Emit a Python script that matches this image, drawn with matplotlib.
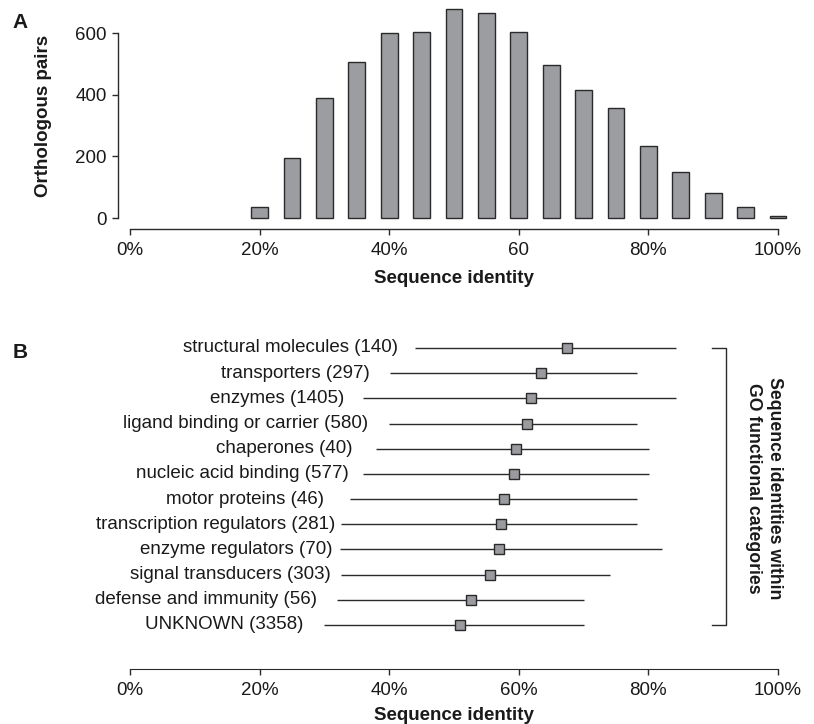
import matplotlib
matplotlib.use("Agg")
import matplotlib.pyplot as plt

plt.rcParams['font.family'] = ['Liberation Sans', 'DejaVu Sans']

# ---- Data: panel A ----
identity_bins = [20, 25, 30, 35, 40, 45, 50, 55, 60, 65, 70, 75, 80, 85, 90, 95, 100]
pair_counts = [36, 195, 389, 506, 599, 602, 678, 666, 602, 496, 415, 356, 233, 150, 82, 36, 6]
x_ticks_a = [0, 20, 40, 60, 80, 100]
x_ticklabels_a = ["0%", "20%", "40%", "60", "80%", "100%"]
y_ticks_a = [0, 200, 400, 600]

# ---- Data: panel B (bottom to top) ----
categories = ["UNKNOWN (3358)", "defense and immunity (56)", "signal transducers (303)",
              "enzyme regulators (70)", "transcription regulators (281)", "motor proteins (46)",
              "nucleic acid binding (577)", "chaperones (40)", "ligand binding or carrier (580)",
              "enzymes (1405)", "transporters (297)", "structural molecules (140)"]
range_low = [30.0, 32.0, 32.5, 32.4, 32.5, 34.0, 35.9, 38.0, 40.0, 36.0, 40.1, 44.0]
range_high = [70.0, 70.0, 74.1, 82.1, 78.2, 78.2, 80.1, 80.1, 78.2, 84.2, 78.2, 84.2]
center_val = [50.9, 52.6, 55.5, 57.0, 57.2, 57.7, 59.2, 59.6, 61.3, 61.9, 63.4, 67.4]
x_ticks_b = [0, 20, 40, 60, 80, 100]
x_ticklabels_b = ["0%", "20%", "40%", "60%", "80%", "100%"]

# layout: right edge of each category label (in x-axis units)
label_right = [26.7, 28.9, 31.0, 31.2, 31.6, 29.9, 33.8, 34.3, 36.7, 33.0, 37.0, 41.4]

W, H = 814, 724
fig = plt.figure(figsize=(W / 100, H / 100), dpi=100)

def px_axes(l, t, r, b):
    return fig.add_axes([l / W, 1 - b / H, (r - l) / W, (b - t) / H])

TXT = '#1a1a1a'
LINE = '#2a2a2a'
BARC = '#9c9da1'
FS = 13.5

# ---------------- Panel A ----------------
axA = px_axes(104.08, 2.2, 803.9, 229.1)
axA.bar(identity_bins, pair_counts, width=2.6, color=BARC, edgecolor=LINE, linewidth=1.0)
axA.set_xlim(-4, 104)
axA.set_ylim(-36, 700)
for s in ['top', 'right']:
    axA.spines[s].set_visible(False)
axA.spines['left'].set_position(('data', -1.85))
axA.spines['left'].set_bounds(0, 600)
axA.spines['bottom'].set_bounds(0, 100)
for s in ['left', 'bottom']:
    axA.spines[s].set_color(LINE)
    axA.spines[s].set_linewidth(1.0)
axA.set_xticks(x_ticks_a)
axA.set_xticklabels(x_ticklabels_a)
axA.set_yticks(y_ticks_a)
axA.tick_params(axis='both', direction='out', length=4, width=1.0, color=LINE,
                labelsize=FS, labelcolor=TXT, pad=5.5)
axA.tick_params(axis='y', pad=4)
axA.set_xlabel("Sequence identity", fontsize=FS, fontweight='bold', color=TXT, labelpad=8)
axA.set_ylabel("Orthologous pairs", fontsize=FS, fontweight='bold', color=TXT, labelpad=17)

# ---------------- Panel B ----------------
axB = px_axes(104.08, 335.4, 803.9, 669.0)
ys = list(range(len(categories)))
axB.hlines(ys, range_low, range_high, color=LINE, linewidth=1.0)
axB.plot(center_val, ys, linestyle='none', marker='s', markersize=7,
         markerfacecolor='#9a9b9f', markeredgecolor=LINE, markeredgewidth=1.0)
for y, lab, xr in zip(ys, categories, label_right):
    axB.text(xr, y, lab, ha='right', va='center', fontsize=FS, color=TXT)
axB.set_xlim(-4, 104)
axB.set_ylim(-1.75, 11.5)
for s in ['top', 'right', 'left']:
    axB.spines[s].set_visible(False)
axB.spines['bottom'].set_bounds(0, 100)
axB.spines['bottom'].set_color(LINE)
axB.set_yticks([])
axB.set_xticks(x_ticks_b)
axB.set_xticklabels(x_ticklabels_b)
axB.tick_params(axis='x', direction='out', length=4, width=1.0, color=LINE,
                labelsize=FS, labelcolor=TXT, pad=5.5)
axB.set_xlabel("Sequence identity", fontsize=FS, fontweight='bold', color=TXT, labelpad=5.5)

# bracket
bx0, bx1 = 89.8, 92.0
axB.plot([bx0, bx1, bx1, bx0], [ys[-1], ys[-1], ys[0], ys[0]], color=LINE,
         linewidth=1.0, clip_on=False)
fig.text(764 / W, 1 - 488 / H, "Sequence identities within\nGO functional categories",
         rotation=-90, ha='center', va='center', fontsize=12.7, fontweight='bold',
         color=TXT, linespacing=1.35, multialignment='center')

# panel letters
fig.text(20 / W, 1 - 22 / H, "A", fontsize=15, fontweight='bold', color=TXT,
         ha='center', va='center')
fig.text(20 / W, 1 - 353 / H, "B", fontsize=15, fontweight='bold', color=TXT,
         ha='center', va='center')

fig.savefig("out.png", dpi=100)
